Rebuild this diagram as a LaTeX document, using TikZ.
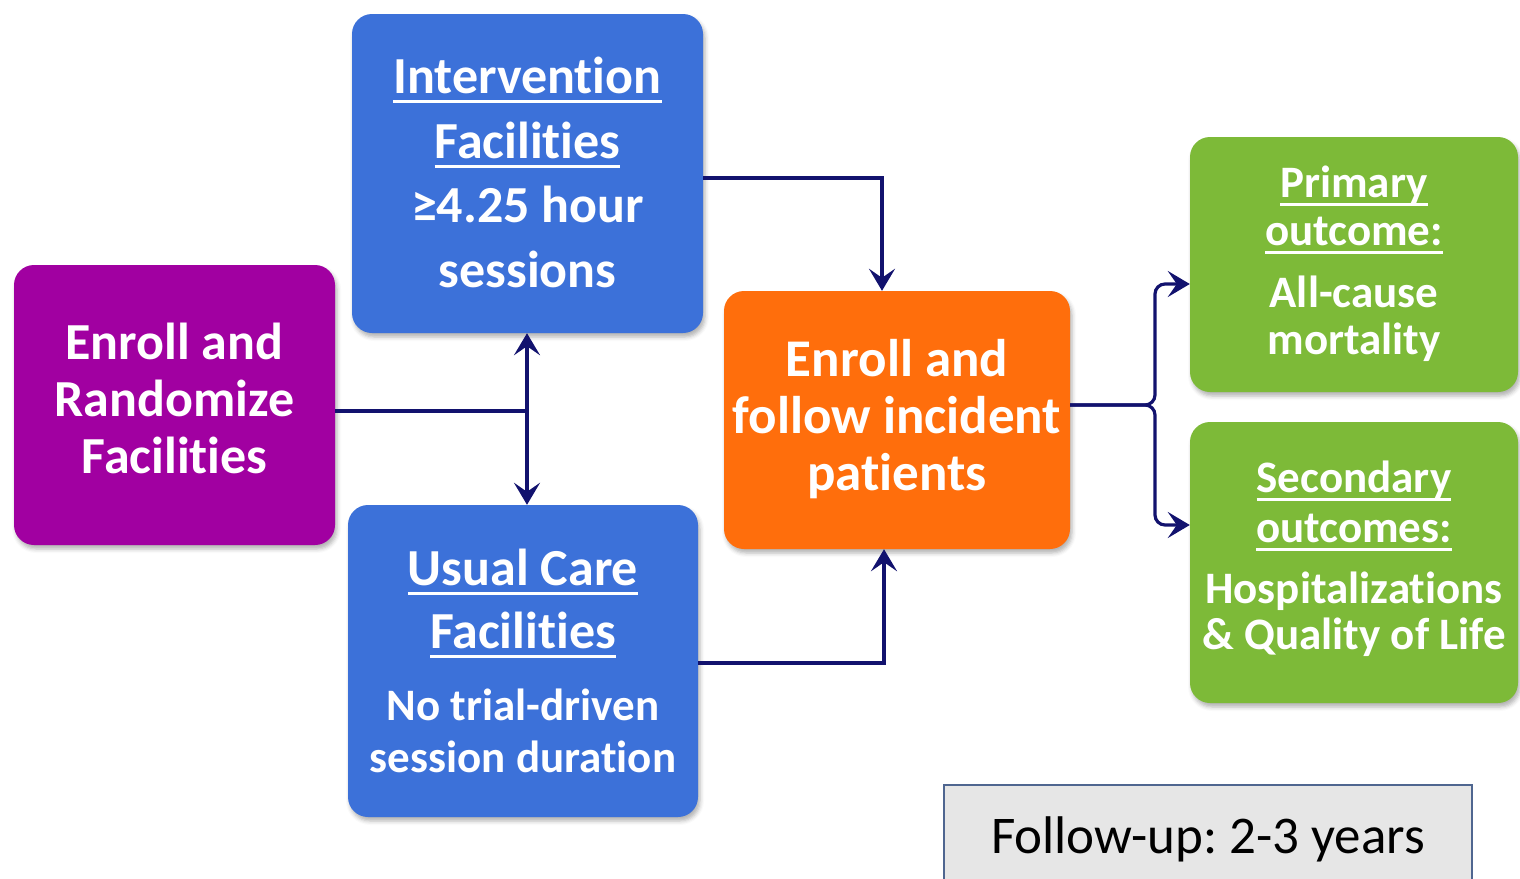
\documentclass[tikz,border=0pt]{standalone}
\usepackage{fontspec}
\setmainfont{Carlito}[Ligatures=NoCommon]
\usetikzlibrary{arrows.meta,shadows.blur}
\frenchspacing

\definecolor{purplebox}{HTML}{A100A1}
\definecolor{bluebox}{HTML}{3C71D9}
\definecolor{orangebox}{HTML}{FF6E0C}
\definecolor{greenbox}{HTML}{7DBA38}
\definecolor{navy}{HTML}{12126E}
\definecolor{notegray}{HTML}{E6E6E6}
\definecolor{noteedge}{HTML}{4F6690}

% underline at a fixed depth below the baseline
\newsavebox\ulbox
\newcommand\ulword[1]{\sbox\ulbox{#1}\rlap{\rule[-0.19em]{\wd\ulbox}{0.06em}}\usebox\ulbox}

\tikzset{
  box/.style={rounded corners=20pt, draw=none,
    blur shadow={shadow xshift=2pt, shadow yshift=-4pt, shadow blur radius=4pt, shadow opacity=30}},
  % texts are placed by the baseline of their last line
  wtxt/.style={text=white, align=center, inner sep=0pt, anchor=base},
  link/.style={draw=navy, line width=3.2pt},
  arrowto/.style={-{Stealth[length=22pt,width=26pt,inset=9pt]}},
}

\begin{document}
\begin{tikzpicture}[x=1pt,y=-1pt]
\useasboundingbox (0,0) rectangle (1520,878);

% boxes
\node[box, fill=purplebox, minimum width=321pt, minimum height=280pt] (rand) at (174.5,405) {};
\node[box, fill=bluebox, minimum width=351pt, minimum height=319pt] (interv) at (527.5,173.5) {};
\node[box, fill=bluebox, minimum width=350pt, minimum height=312pt] (usual) at (523,661) {};
\node[box, fill=orangebox, minimum width=346pt, minimum height=258pt] (enroll) at (897,420) {};
\node[box, fill=greenbox, minimum width=328pt, minimum height=255pt] (prim) at (1354,264.5) {};
\node[box, fill=greenbox, minimum width=328pt, minimum height=281pt] (sec) at (1354,562.5) {};
\node[draw=noteedge, line width=1.5pt, fill=notegray, minimum width=528pt, minimum height=100pt] (note) at (1208,835) {};

% box texts
\node[wtxt, font=\bfseries\fontsize{52}{57}\selectfont] (randtxt) at (174.5,473)
  {Enroll and\\Randomize\\Facilities};
\node[wtxt, font=\bfseries\fontsize{52}{64.5}\selectfont] (intervtxt) at (527.5,287)
  {\ulword{Intervention}\\\ulword{Facilities}\\≥4.25 hour\\sessions};
\node[wtxt, font=\bfseries\fontsize{52}{63}\selectfont] (usualhead) at (523,648)
  {\ulword{Usual Care}\\\ulword{Facilities}};
\node[wtxt, font=\bfseries\fontsize{45}{52}\selectfont] (usualbody) at (523,772)
  {No trial-driven\\session duration};
\node[wtxt, font=\bfseries\fontsize{53}{57}\selectfont] (enrolltxt) at (897,490)
  {Enroll and\\follow incident\\patients};
\node[wtxt, font=\bfseries\fontsize{45}{48}\selectfont] (primhead) at (1354,245)
  {\ulword{Primary}\\\ulword{outcome:}};
\node[wtxt, font=\bfseries\fontsize{45}{47}\selectfont] (primbody) at (1354,354)
  {All-cause\\mortality};
\node[wtxt, font=\bfseries\fontsize{45}{50}\selectfont] (sechead) at (1354,542)
  {\ulword{Secondary}\\\ulword{outcomes:}};
\node[wtxt, font=\bfseries\fontsize{45}{46}\selectfont] (secbody) at (1354,649)
  {Hospitalizations\\\& Quality of Life};
\node[anchor=base, inner sep=0pt, font=\fontsize{53}{60}\selectfont] (notetxt) at (1208,853)
  {Follow-up: 2-3 years};

% randomisation split
\coordinate (split) at (527,411);
\draw[link] (rand.east |- split) -- (split);
\draw[link, arrowto] (split) -- (split |- interv.south);
\draw[link, arrowto] (split) -- (split |- usual.north);

% both arms feed patient enrolment
\coordinate (tc) at (882,178);
\coordinate (bc) at (884,663);
\draw[link, arrowto] (tc -| interv.east) -- (tc) -- (tc |- enroll.north);
\draw[link, arrowto] (bc -| usual.east) -- (bc) -- (bc |- enroll.south);

% outcomes fork, drawn as a brace
\coordinate (fork) at (1155,405);
\coordinate (up) at (1155,284);
\coordinate (dn) at (1155,525);
\draw[link, arrowto, rounded corners=10pt] (fork -| enroll.east) -- (fork) -- (up) -- (up -| prim.west);
\draw[link, arrowto, rounded corners=10pt] (fork -| enroll.east) -- (fork) -- (dn) -- (dn -| sec.west);
\end{tikzpicture}
\end{document}
